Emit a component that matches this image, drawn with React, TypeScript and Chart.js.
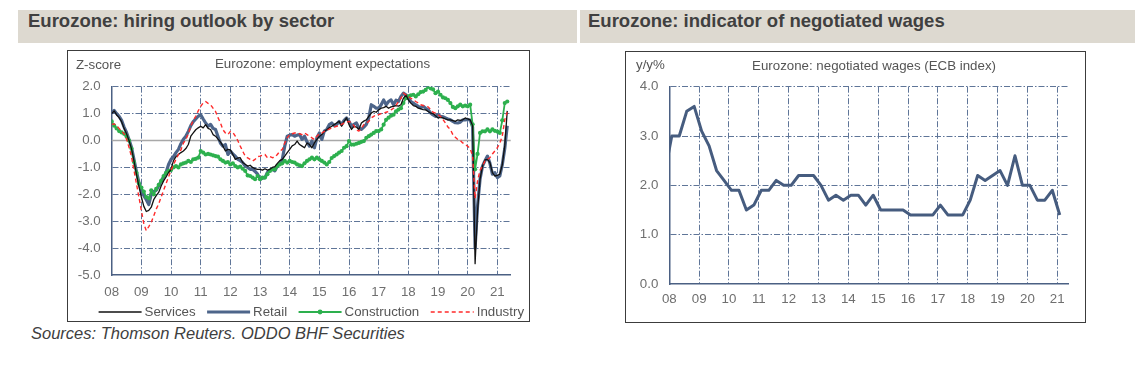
import React, { useEffect, useRef } from "react";
import { Chart, registerables } from "chart.js";

Chart.register(...registerables);

const FONT = "'Liberation Sans', Arial, Helvetica, sans-serif";

// ---------- shared axis data ----------
const yearTicks = [2008, 2009, 2010, 2011, 2012, 2013, 2014, 2015, 2016, 2017, 2018, 2019, 2020, 2021];
const yearLabels = ["08", "09", "10", "11", "12", "13", "14", "15", "16", "17", "18", "19", "20", "21"];

// ---------- left chart: employment expectations (monthly, Jan 2008 - May 2021) ----------
const leftTitle = "Eurozone: hiring outlook by sector";
const leftSubtitle = "Eurozone: employment expectations";
const leftUnit = "Z-score";
const leftYTicks = [-5, -4, -3, -2, -1, 0, 1, 2];
const monthStartYear = 2008;

const services = [
  1.0, 1.1, 0.95, 0.85, 0.7, 0.45, 0.25, 0.0, -0.3, -0.75, -1.25, -1.7,
  -2.1, -2.45, -2.64, -2.6, -2.48, -2.2, -2.05, -1.93, -1.69, -1.5, -1.35, -1.19,
  -1.07, -0.75, -0.6, -0.52, -0.45, -0.39, -0.3, -0.15, 0.16, 0.28, 0.4, 0.47,
  0.53, 0.47, 0.59, 0.45, 0.41, 0.22, 0.16, 0.05, -0.05, -0.21, -0.39, -0.33,
  -0.35, -0.52, -0.7, -0.65, -0.64, -0.82, -0.88, -0.95, -0.92, -1.0, -1.05, -1.07,
  -1.07, -1.1, -1.05, -1.1, -1.07, -1.0, -0.97, -0.85, -0.75, -0.7, -0.58, -0.45,
  -0.33, -0.2, -0.15, -0.02, -0.15, -0.21, -0.27, -0.09, -0.15, -0.27, -0.09, 0.04,
  0.15, 0.22, 0.34, 0.4, 0.47, 0.53, 0.59, 0.65, 0.71, 0.53, 0.71, 0.84,
  0.59, 0.41, 0.53, 0.5, 0.41, 0.65, 0.72, 0.77, 0.9, 1.02, 1.08, 1.05,
  1.14, 1.2, 1.22, 1.27, 1.2, 1.25, 1.27, 1.3, 1.28, 1.33, 1.57, 1.7,
  1.51, 1.39, 1.3, 1.27, 1.2, 1.18, 1.15, 1.14, 1.08, 1.02, 1.0, 0.92,
  0.84, 0.86, 0.84, 0.8, 0.77, 0.77, 0.74, 0.71, 0.77, 0.75, 0.77, 0.84,
  0.8, 0.77, 0.55, -4.58, -2.6, -1.44, -0.95, -0.72, -0.7, -0.82, -1.19, -1.32,
  -1.3, -1.25, -0.9, -0.2, 1.1,
];

const retail = [
  1.02, 1.12, 1.0, 0.9, 0.75, 0.5, 0.3, 0.04, -0.25, -0.7, -1.15, -1.56,
  -1.85, -2.05, -2.2, -2.38, -2.0, -1.9, -1.85, -1.69, -1.5, -1.35, -1.19, -0.89,
  -0.7, -0.6, -0.45, -0.33, -0.12, 0.05, 0.16, 0.34, 0.55, 0.7, 0.8, 0.9,
  0.96, 0.8, 0.65, 0.53, 0.6, 0.45, 0.41, 0.15, -0.1, -0.21, -0.15, -0.52,
  -0.39, -0.5, -0.58, -0.7, -0.75, -0.82, -0.95, -1.0, -1.07, -1.07, -1.15, -1.25,
  -1.44, -1.4, -1.38, -1.19, -1.1, -1.07, -1.13, -0.95, -0.85, -0.7, -0.21, 0.16,
  0.2, 0.22, 0.16, 0.2, 0.22, 0.04, 0.16, -0.05, -0.21, -0.02, -0.27, 0.1,
  0.28, 0.04, 0.35, 0.41, 0.59, 0.65, 0.55, 0.6, 0.71, 0.59, 0.75, 0.84,
  0.71, 0.53, 0.6, 0.65, 0.47, 0.41, 0.5, 0.6, 0.84, 1.33, 1.27, 1.2,
  1.2, 1.33, 1.51, 1.33, 1.45, 1.51, 1.33, 1.5, 1.45, 1.64, 1.76, 1.7,
  1.57, 1.45, 1.39, 1.33, 1.27, 1.22, 1.27, 1.2, 1.14, 1.02, 0.95, 0.9,
  0.96, 0.9, 0.88, 0.84, 0.8, 0.77, 0.71, 0.66, 0.65, 0.68, 0.77, 0.77,
  0.78, 0.76, 0.5, -4.0, -2.42, -1.44, -0.95, -0.75, -0.58, -0.85, -1.25, -1.2,
  -1.38, -1.32, -0.9, -0.3, 0.55,
];

const construction = [
  0.71, 0.55, 0.45, 0.35, 0.3, 0.25, 0.15, 0.0, -0.3, -0.8, -1.2, -1.6,
  -1.75, -1.9, -2.1, -2.15, -1.85, -2.0, -1.8, -1.65, -1.5, -1.32, -1.2, -1.13,
  -1.1, -1.0, -0.95, -1.0, -0.89, -0.85, -0.82, -0.76, -0.8, -0.7, -0.68, -0.64,
  -0.39, -0.45, -0.52, -0.5, -0.52, -0.55, -0.58, -0.6, -0.7, -0.76, -0.82, -0.8,
  -0.89, -0.85, -0.95, -1.0, -0.97, -1.05, -1.13, -1.3, -1.32, -1.38, -1.44, -1.32,
  -1.44, -1.38, -1.38, -1.25, -1.13, -1.07, -1.07, -0.95, -0.89, -0.85, -0.76, -0.82,
  -0.76, -0.8, -0.82, -0.89, -0.92, -0.95, -0.85, -0.76, -0.7, -0.64, -0.7, -0.64,
  -0.7, -0.76, -0.82, -0.89, -0.8, -0.65, -0.58, -0.52, -0.45, -0.39, -0.27, -0.21,
  -0.02, -0.15, -0.15, -0.12, -0.09, -0.05, -0.02, 0.1, 0.16, 0.22, 0.28, 0.35,
  0.35, 0.41, 0.59, 0.77, 0.85, 0.92, 0.96, 1.08, 1.15, 1.2, 1.39, 1.57,
  1.64, 1.68, 1.7, 1.64, 1.72, 1.8, 1.82, 1.88, 2.0, 1.94, 1.9, 1.76,
  1.82, 1.7, 1.6, 1.57, 1.51, 1.39, 1.25, 1.2, 1.27, 1.33, 1.27, 1.3,
  1.27, 1.33, 0.6, -1.07, -0.5, 0.28, 0.34, 0.34, 0.41, 0.34, 0.41, 0.36,
  0.33, 0.28, 0.75, 1.39, 1.45,
];

const industry = [
  0.6, 0.62, 0.55, 0.45, 0.35, 0.25, 0.05, -0.25, -0.6, -1.1, -1.6, -2.1,
  -2.6, -3.1, -3.35, -3.2, -3.04, -2.8, -2.55, -2.36, -2.1, -1.85, -1.6, -1.35,
  -1.1, -0.9, -0.7, -0.52, -0.35, -0.1, 0.04, 0.25, 0.53, 0.75, 0.9, 1.1,
  1.27, 1.4, 1.45, 1.38, 1.33, 1.2, 1.08, 0.85, 0.65, 0.4, 0.28, 0.22,
  0.34, 0.3, 0.16, 0.0, -0.21, -0.4, -0.58, -0.65, -0.7, -0.76, -0.7, -0.6,
  -0.58, -0.55, -0.52, -0.64, -0.6, -0.64, -0.62, -0.52, -0.4, -0.33, -0.09, 0.1,
  0.22, 0.25, 0.28, 0.28, 0.25, 0.22, 0.28, 0.22, 0.16, 0.1, 0.04, 0.16,
  0.25, 0.28, 0.34, 0.38, 0.42, 0.47, 0.5, 0.53, 0.55, 0.6, 0.65, 0.68,
  0.71, 0.65, 0.55, 0.4, 0.35, 0.45, 0.59, 0.65, 0.71, 0.84, 0.9, 0.96,
  0.96, 1.0, 1.02, 1.05, 1.08, 1.14, 1.2, 1.3, 1.45, 1.57, 1.76, 1.7,
  1.64, 1.57, 1.51, 1.45, 1.4, 1.33, 1.3, 1.27, 1.25, 1.15, 1.05, 1.02,
  0.96, 0.9, 0.78, 0.65, 0.5, 0.41, 0.22, 0.12, 0.04, 0.0, -0.09, -0.15,
  -0.21, -0.3, -0.58, -2.15, -1.5, -1.1, -0.95, -0.76, -0.7, -0.64, -0.5, -0.39,
  -0.27, -0.1, 0.16, 0.77, 1.05,
];

// ---------- right chart: negotiated wages (quarterly) ----------
const rightTitle = "Eurozone: indicator of negotiated wages";
const rightSubtitle = "Eurozone: negotiated wages (ECB index)";
const rightUnit = "y/y%";
const rightYTicks = [0, 1, 2, 3, 4];
const wageStartYear = 2007 + 10 / 12;
const wages = [
  2.2, 3.0, 3.0, 3.5, 3.6, 3.1, 2.8, 2.3, 2.1, 1.9, 1.9, 1.5, 1.6, 1.9, 1.9,
  2.1, 2.0, 2.0, 2.2, 2.2, 2.2, 2.0, 1.7, 1.8, 1.7, 1.8, 1.8, 1.6, 1.8, 1.5,
  1.5, 1.5, 1.5, 1.4, 1.4, 1.4, 1.4, 1.6, 1.4, 1.4, 1.4, 1.7, 2.2, 2.1, 2.2,
  2.3, 2.0, 2.6, 2.0, 2.0, 1.7, 1.7, 1.9, 1.4,
];

const sourceText = "Sources: Thomson Reuters. ODDO BHF Securities";

// ---------- styles ----------
const BAND = "#ddd9d0";
const HEAD_TEXT = "#404040";
const TICK_COLOR = "#6f6f6f";
const TITLE_COLOR = "#555555";
const GRID_COLOR = "#5f7598";
const AXIS_COLOR = "#4b6083";
const ZERO_COLOR = "#a8a8a8";
const GRID_DASH = [6, 2, 1.5, 2];
const FS = 13.3;

const monthly = (arr: number[]) => arr.map((v, i) => ({ x: monthStartYear + i / 12, y: v }));
const quarterly = (arr: number[]) => arr.map((v, i) => ({ x: wageStartYear + i / 4, y: v }));

function xScale(max: number, height: number, pad: number) {
  return {
    type: "linear",
    min: 2008,
    max,
    afterBuildTicks: (s: any) => {
      s.ticks = yearTicks.map((v) => ({ value: v }));
    },
    afterFit: (s: any) => {
      s.height = height;
    },
    ticks: {
      callback: (v: number) => {
        const i = yearTicks.indexOf(v);
        return i >= 0 ? yearLabels[i] : "";
      },
      color: TICK_COLOR,
      font: { family: FONT, size: FS },
      padding: pad,
      maxRotation: 0,
      autoSkip: false,
    },
    grid: {
      color: (c: any) => (c.index === 0 ? "rgba(0,0,0,0)" : GRID_COLOR),
      lineWidth: 1,
      drawTicks: false,
    },
    border: { display: true, color: AXIS_COLOR, width: 1.5, dash: GRID_DASH },
  };
}

function yScale(min: number, max: number, ticks: number[], width: number, zeroHidden: boolean) {
  return {
    type: "linear",
    min,
    max,
    afterBuildTicks: (s: any) => {
      s.ticks = ticks.map((v) => ({ value: v }));
    },
    afterFit: (s: any) => {
      s.width = width;
    },
    ticks: {
      callback: (v: number) => v.toFixed(1),
      color: TICK_COLOR,
      font: { family: FONT, size: FS },
      padding: 11,
    },
    grid: {
      color: (c: any) =>
        c.index === 0 || (zeroHidden && c.tick && c.tick.value === 0) ? "rgba(0,0,0,0)" : GRID_COLOR,
      lineWidth: 1,
      drawTicks: false,
    },
    border: { display: true, color: AXIS_COLOR, width: 1.5, dash: GRID_DASH },
  };
}

const leftDecor = {
  id: "leftDecor",
  beforeDatasetsDraw(chart: any) {
    const { ctx, chartArea, scales } = chart;
    const py = scales.y.getPixelForValue(0);
    ctx.save();
    ctx.strokeStyle = ZERO_COLOR;
    ctx.lineWidth = 1.5;
    ctx.beginPath();
    ctx.moveTo(chartArea.left, py);
    ctx.lineTo(chartArea.right, py);
    ctx.stroke();
    ctx.restore();
  },
  afterDraw(chart: any) {
    const { ctx } = chart;
    ctx.save();
    ctx.font = `${FS}px ${FONT}`;
    ctx.fillStyle = TITLE_COLOR;
    ctx.textBaseline = "middle";
    ctx.textAlign = "left";
    ctx.fillText(leftUnit, 8, 14);
    ctx.textAlign = "center";
    ctx.fillText(leftSubtitle, 254.5, 13);
    // legend
    let x = 30.6;
    const y = 261;
    chart.data.datasets.forEach((ds: any) => {
      ctx.save();
      ctx.strokeStyle = ds.borderColor;
      ctx.lineWidth = ds.borderWidth;
      ctx.setLineDash(ds.borderDash || []);
      ctx.beginPath();
      ctx.moveTo(x, y);
      ctx.lineTo(x + 43, y);
      ctx.stroke();
      if (ds.pointRadius > 0) {
        ctx.fillStyle = ds.pointBackgroundColor;
        ctx.beginPath();
        ctx.arc(x + 21.5, y, 2.4, 0, Math.PI * 2);
        ctx.fill();
      }
      ctx.restore();
      ctx.fillStyle = TITLE_COLOR;
      ctx.textAlign = "left";
      ctx.fillText(ds.label, x + 46, y + 0.5);
      x += 46 + ctx.measureText(ds.label).width + 11.5;
    });
    ctx.restore();
  },
};

const rightDecor = {
  id: "rightDecor",
  afterDraw(chart: any) {
    const { ctx } = chart;
    ctx.save();
    ctx.font = `${FS}px ${FONT}`;
    ctx.fillStyle = TITLE_COLOR;
    ctx.textBaseline = "middle";
    ctx.textAlign = "left";
    ctx.fillText(rightUnit, 10, 13);
    ctx.textAlign = "center";
    ctx.fillText(rightSubtitle, 248, 14.5);
    ctx.restore();
  },
};

function LeftChart() {
  const ref = useRef<HTMLCanvasElement>(null);
  useEffect(() => {
    if (!ref.current) return;
    const chart = new Chart(ref.current, {
      type: "line",
      data: {
        datasets: [
          {
            label: "Services",
            data: monthly(services),
            borderColor: "#111111",
            borderWidth: 1.3,
            pointRadius: 0,
            order: 1,
          },
          {
            label: "Retail",
            data: monthly(retail),
            borderColor: "#4d658a",
            borderWidth: 3.2,
            pointRadius: 0,
            order: 3,
          },
          {
            label: "Construction",
            data: monthly(construction),
            borderColor: "#2db04e",
            borderWidth: 1.8,
            pointRadius: 2.1,
            pointBorderWidth: 0,
            pointBackgroundColor: "#2db04e",
            order: 2,
          },
          {
            label: "Industry",
            data: monthly(industry),
            borderColor: "#ff2a2a",
            borderWidth: 1.4,
            borderDash: [4, 3],
            pointRadius: 0,
            order: 0,
          },
        ],
      } as any,
      options: {
        responsive: false,
        animation: false,
        events: [],
        layout: { padding: { left: 0, right: 18.3, top: 35.7, bottom: 0 } },
        plugins: { legend: { display: false }, tooltip: { enabled: false }, title: { display: false } },
        elements: { line: { tension: 0, borderJoinStyle: "round" } },
        scales: {
          x: xScale(2021.45, 46, 9),
          y: yScale(-5, 2, leftYTicks, 43.7, true),
        } as any,
      },
      plugins: [leftDecor],
    });
    return () => chart.destroy();
  }, []);
  return <canvas ref={ref} width={461} height={270} style={{ display: "block" }} />;
}

function RightChart() {
  const ref = useRef<HTMLCanvasElement>(null);
  useEffect(() => {
    if (!ref.current) return;
    const chart = new Chart(ref.current, {
      type: "line",
      data: {
        datasets: [
          {
            label: "Negotiated wages",
            data: quarterly(wages),
            borderColor: "#465c7f",
            borderWidth: 3,
            pointRadius: 0,
          },
        ],
      } as any,
      options: {
        responsive: false,
        animation: false,
        events: [],
        layout: { padding: { left: 0, right: 16.7, top: 34.7, bottom: 0 } },
        plugins: { legend: { display: false }, tooltip: { enabled: false }, title: { display: false } },
        elements: { line: { tension: 0, borderJoinStyle: "round" } },
        scales: {
          x: xScale(2021.37, 38, 7.5),
          y: yScale(0, 4, rightYTicks, 43.3, false),
        } as any,
      },
      plugins: [rightDecor],
    });
    return () => chart.destroy();
  }, []);
  return <canvas ref={ref} width={459} height={270} style={{ display: "block" }} />;
}

const headText: React.CSSProperties = {
  position: "absolute",
  left: 10,
  top: 0,
  lineHeight: "33px",
  font: `bold 18.5px ${FONT}`,
  color: HEAD_TEXT,
  whiteSpace: "nowrap",
};

export default function App() {
  return (
    <div
      style={{
        position: "absolute",
        left: 0,
        top: 0,
        width: 1144,
        height: 368,
        background: "#ffffff",
        overflow: "hidden",
      }}
    >
      <div style={{ position: "absolute", left: 18, top: 10, width: 559, height: 33, background: BAND }}>
        <span style={headText}>{leftTitle}</span>
      </div>
      <div style={{ position: "absolute", left: 580, top: 10, width: 555, height: 33, background: BAND }}>
        <span style={{ ...headText, left: 8 }}>{rightTitle}</span>
      </div>
      <div style={{ position: "absolute", left: 67, top: 50, width: 461, height: 270, border: "1px solid #3c3c3c" }}>
        <LeftChart />
      </div>
      <div style={{ position: "absolute", left: 625, top: 51, width: 459, height: 270, border: "1px solid #3c3c3c" }}>
        <RightChart />
      </div>
      <div
        style={{
          position: "absolute",
          left: 31,
          top: 324,
          lineHeight: "18px",
          font: `italic 16.5px ${FONT}`,
          color: "#404040",
          whiteSpace: "nowrap",
        }}
      >
        {sourceText}
      </div>
    </div>
  );
}
